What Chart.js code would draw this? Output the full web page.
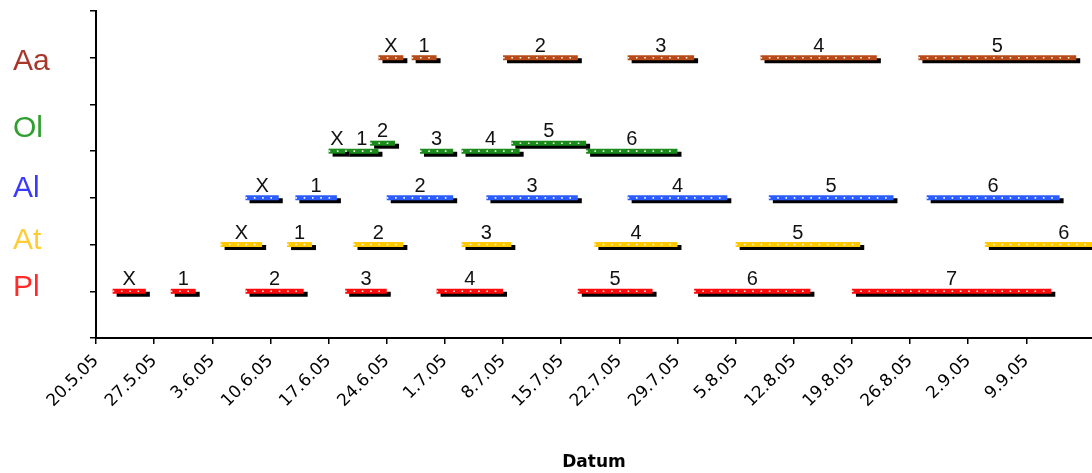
<!DOCTYPE html>
<html>
<head>
<meta charset="utf-8">
<script src="https://cdn.jsdelivr.net/npm/chart.js@4/dist/chart.umd.min.js"></script>
<style>
  html, body { margin: 0; padding: 0; background: #fff; }
  #wrap { width: 1092px; height: 473px; }
</style>
</head>
<body>
<div id="wrap"><canvas id="gantt"></canvas></div>
<script>
// day 0 of the time axis
const firstDay = '20.5';

// one entry per bar: name, start date, end date (d.m of 2005)
const plNames = ['X', '1', '2', '3', '4', '5', '6', '7'];
const plStart = ['22.5', '29.5', '7.6', '19.6', '30.6', '17.7', '31.7', '19.8'];
const plEnd   = ['26.5', '1.6', '14.6', '24.6', '8.7', '26.7', '14.8', '12.9'];
const plLevel = [1, 1, 1, 1, 1, 1, 1, 1];

const atNames = ['X', '1', '2', '3', '4', '5', '6'];
const atStart = ['4.6', '12.6', '20.6', '3.7', '19.7', '5.8', '4.9'];
const atEnd   = ['9.6', '15.6', '26.6', '9.7', '29.7', '20.8', '23.9'];
const atLevel = [2, 2, 2, 2, 2, 2, 2];

const alNames = ['X', '1', '2', '3', '4', '5', '6'];
const alStart = ['7.6', '13.6', '24.6', '6.7', '23.7', '9.8', '28.8'];
const alEnd   = ['11.6', '18.6', '2.7', '17.7', '4.8', '24.8', '13.9'];
const alLevel = [3, 3, 3, 3, 3, 3, 3];

const olNames = ['X', '1', '2', '3', '4', '5', '6'];
const olStart = ['17.6', '19.6', '22.6', '28.6', '3.7', '9.7', '18.7'];
const olEnd   = ['19.6', '23.6', '25.6', '2.7', '10.7', '18.7', '29.7'];
const olLevel = [4, 4, 4.17, 4, 4, 4.17, 4];

const aaNames = ['X', '1', '2', '3', '4', '5'];
const aaStart = ['23.6', '27.6', '8.7', '23.7', '8.8', '27.8'];
const aaEnd   = ['26.6', '30.6', '17.7', '31.7', '22.8', '15.9'];
const aaLevel = [6, 6, 6, 6, 6, 6];

// row captions on the left
const rowNames  = ['Pl', 'At', 'Al', 'Ol', 'Aa'];
const rowLabelY = [1.07, 2.09, 3.2, 4.48, 5.92];
const rowTextColors = ['#ff2a2a', '#ffcc33', '#3a3aff', '#2f9f2f', '#a8362a'];
const rowBarColors  = ['#ff0a0a', '#ffc800', '#2a5cff', '#1a8a1a', '#b84a18'];

const series = [
  [plNames, plStart, plEnd, plLevel],
  [atNames, atStart, atEnd, atLevel],
  [alNames, alStart, alEnd, alLevel],
  [olNames, olStart, olEnd, olLevel],
  [aaNames, aaStart, aaEnd, aaLevel]
];

function toDay(s) {
  const [d, m] = s.split('.').map(Number);
  const [d0, m0] = firstDay.split('.').map(Number);
  return Math.round((Date.UTC(2005, m - 1, d) - Date.UTC(2005, m0 - 1, d0)) / 86400000);
}
function dayLabel(n) {
  const [d0, m0] = firstDay.split('.').map(Number);
  const dt = new Date(Date.UTC(2005, m0 - 1, d0 + n));
  return dt.getUTCDate() + '.' + (dt.getUTCMonth() + 1) + '.05';
}

const datasets = [];
const barLabels = [];
series.forEach(([names, starts, ends, levels], r) => {
  names.forEach((name, i) => {
    const pts = [{ x: toDay(starts[i]), y: levels[i] }, { x: toDay(ends[i]), y: levels[i] }];
    datasets.push({
      label: rowNames[r] + ' ' + name,
      data: pts,
      showLine: true,
      borderColor: rowBarColors[r],
      borderWidth: 5,
      borderCapStyle: 'butt',
      pointRadius: 0,
      shadow: true,
      order: 1
    });
    datasets.push({
      label: rowNames[r] + ' ' + name + ' dots',
      data: pts,
      showLine: true,
      borderColor: 'rgba(255,255,255,0.95)',
      borderWidth: 1.6,
      borderDash: [1.6, 6.7],
      pointRadius: 0,
      order: 0
    });
    barLabels.push({ text: name, x0: pts[0].x, x1: pts[1].x, y: levels[i] });
  });
});

const shadowPlugin = {
  id: 'barShadow',
  beforeDatasetDraw(chart, args) {
    if (!chart.data.datasets[args.index].shadow) return;
    const ctx = chart.ctx;
    ctx.save();
    ctx.shadowColor = '#000';
    ctx.shadowOffsetX = 4;
    ctx.shadowOffsetY = 3;
    ctx.shadowBlur = 0;
  },
  afterDatasetDraw(chart, args) {
    if (chart.data.datasets[args.index].shadow) chart.ctx.restore();
  }
};

const textPlugin = {
  id: 'texts',
  afterDatasetsDraw(chart) {
    const ctx = chart.ctx;
    const xs = chart.scales.x, ys = chart.scales.y;
    ctx.save();
    ctx.fillStyle = '#111';
    ctx.font = '20px "Liberation Sans", Arial, sans-serif';
    ctx.textAlign = 'center';
    ctx.textBaseline = 'alphabetic';
    barLabels.forEach(b => {
      const cx = (xs.getPixelForValue(b.x0) + xs.getPixelForValue(b.x1)) / 2;
      ctx.fillText(b.text, cx, ys.getPixelForValue(b.y) - 6);
    });
    ctx.font = '30px "Liberation Sans", Arial, sans-serif';
    ctx.textAlign = 'left';
    ctx.textBaseline = 'middle';
    rowNames.forEach((n, i) => {
      ctx.fillStyle = rowTextColors[i];
      ctx.fillText(n, 13, ys.getPixelForValue(rowLabelY[i]));
    });
    ctx.restore();
  }
};

new Chart(document.getElementById('gantt'), {
  type: 'scatter',
  data: { datasets },
  plugins: [shadowPlugin, textPlugin],
  options: {
    responsive: true,
    maintainAspectRatio: false,
    animation: false,
    layout: { padding: { top: 11, right: 0, left: 0, bottom: 0 } },
    plugins: { legend: { display: false }, tooltip: { enabled: false } },
    scales: {
      x: {
        type: 'linear',
        min: 0,
        max: 119.9,
        afterBuildTicks(scale) {
          scale.ticks = scale.ticks.filter(t => t.value <= 112);
        },
        afterFit(scale) { scale.height = 135; },
        ticks: {
          stepSize: 7,
          includeBounds: false,
          autoSkip: false,
          maxRotation: 45,
          minRotation: 45,
          padding: 7,
          color: '#000',
          font: { family: '"DejaVu Sans"', size: 17 },
          callback: v => dayLabel(v)
        },
        grid: { drawOnChartArea: false, drawTicks: true, tickLength: 6, color: '#000', lineWidth: 1.5 },
        border: { color: '#000', width: 2 },
        title: {
          display: true,
          text: 'Datum',
          color: '#000',
          font: { family: '"DejaVu Sans"', size: 17, weight: 'bold' },
          padding: { top: 0, bottom: 0 }
        }
      },
      y: {
        type: 'linear',
        min: 0,
        max: 7,
        afterFit(scale) { scale.width = 96; },
        ticks: { stepSize: 1, display: false },
        grid: { drawOnChartArea: false, drawTicks: true, tickLength: 6, color: '#000', lineWidth: 1.5 },
        border: { color: '#000', width: 2 }
      }
    }
  }
});
</script>
</body>
</html>
